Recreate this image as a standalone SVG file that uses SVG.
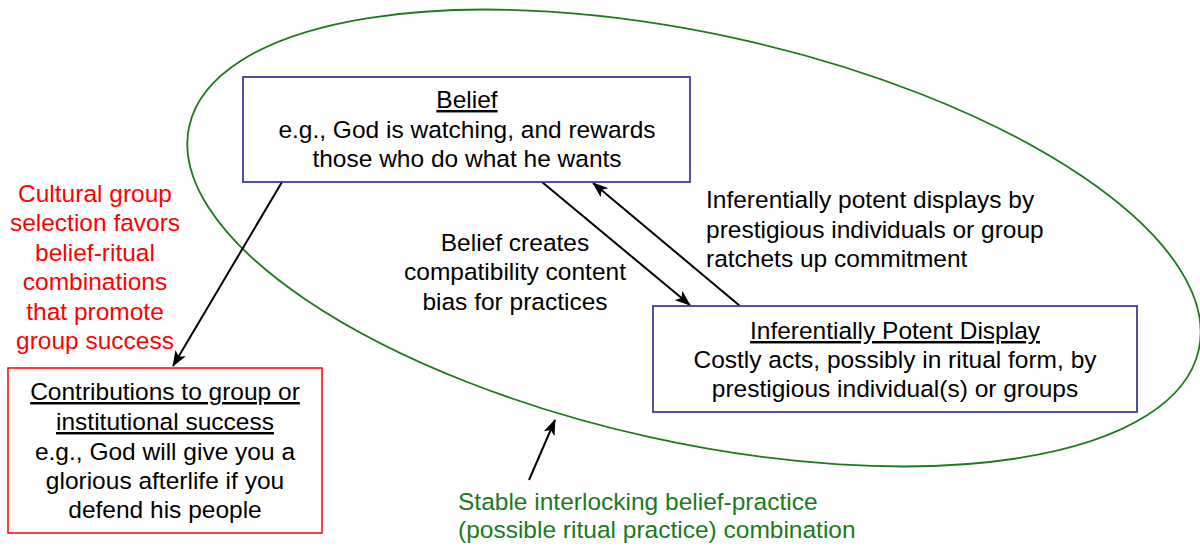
<svg xmlns="http://www.w3.org/2000/svg" width="1200" height="548" viewBox="0 0 1200 548">
<defs>
<style>
text{font-family:"Liberation Sans",Arial,sans-serif;font-size:24.5px;}
.c{text-anchor:middle;fill:#000;}
.l{text-anchor:start;fill:#000;}
.red{fill:#FF0000;text-anchor:middle;}
.grn{fill:#1B7A1B;}
.u{text-decoration:underline;}
.box{fill:#fff;stroke:#3C3C9C;stroke-width:1.8;}
.rbox{fill:#fff;stroke:#FF0000;stroke-width:1.5;}
.conn{stroke:#000;stroke-width:2;fill:none;marker-end:url(#ah);}
</style>
<marker id="ah" viewBox="0 0 16 12" refX="15" refY="6" markerWidth="16" markerHeight="12" markerUnits="userSpaceOnUse" orient="auto">
<path d="M0,0 L16,6 L0,12 L4,6 Z" fill="#000"/>
</marker>
</defs>
<rect width="1200" height="548" fill="#fff"/>
<g id="ellipse">
<ellipse cx="694" cy="238" rx="517" ry="204" transform="rotate(12.5 694 238)" fill="none" stroke="#1B7A1B" stroke-width="1.8"/>
</g>
<g id="connectors">
<line class="conn" x1="282" y1="182" x2="173" y2="366"/>
<line class="conn" x1="542" y1="182" x2="690" y2="305"/>
<line class="conn" x1="740" y1="306" x2="593" y2="183"/>
<line class="conn" x1="529" y1="480" x2="555" y2="420"/>
</g>
<g id="belief">
<rect class="box" x="243" y="77" width="447" height="105"/>
<text class="c" x="467" y="108"><tspan class="u">Belief</tspan></text>
<text class="c" x="467" y="138">e.g., God is watching, and rewards</text>
<text class="c" x="467" y="167">those who do what he wants</text>
</g>
<g id="display">
<rect class="box" x="653" y="306" width="484" height="106"/>
<text class="c" x="895" y="339"><tspan class="u">Inferentially Potent Display</tspan></text>
<text class="c" x="895" y="368">Costly acts, possibly in ritual form, by</text>
<text class="c" x="895" y="397">prestigious individual(s) or groups</text>
</g>
<g id="contributions">
<rect class="rbox" x="8" y="368" width="314" height="165"/>
<text class="c" x="165" y="400"><tspan class="u">Contributions to group or</tspan></text>
<text class="c" x="165" y="430"><tspan class="u">institutional success</tspan></text>
<text class="c" x="165" y="460">e.g., God will give you a</text>
<text class="c" x="165" y="489">glorious afterlife if you</text>
<text class="c" x="165" y="518">defend his people</text>
</g>
<g id="selection-label">
<text class="red" x="95" y="202">Cultural group</text>
<text class="red" x="95" y="231">selection favors</text>
<text class="red" x="95" y="261">belief-ritual</text>
<text class="red" x="95" y="290">combinations</text>
<text class="red" x="95" y="320">that promote</text>
<text class="red" x="95" y="349">group success</text>
</g>
<g id="bias-label">
<text class="c" x="515" y="251">Belief creates</text>
<text class="c" x="515" y="280">compatibility content</text>
<text class="c" x="515" y="310">bias for practices</text>
</g>
<g id="ratchet-label">
<text class="l" x="706" y="208">Inferentially potent displays by</text>
<text class="l" x="706" y="238">prestigious individuals or group</text>
<text class="l" x="706" y="267">ratchets up commitment</text>
</g>
<g id="stable-label">
<text class="grn" x="458" y="510">Stable interlocking belief-practice</text>
<text class="grn" x="458" y="538">(possible ritual practice) combination</text>
</g>
</svg>
